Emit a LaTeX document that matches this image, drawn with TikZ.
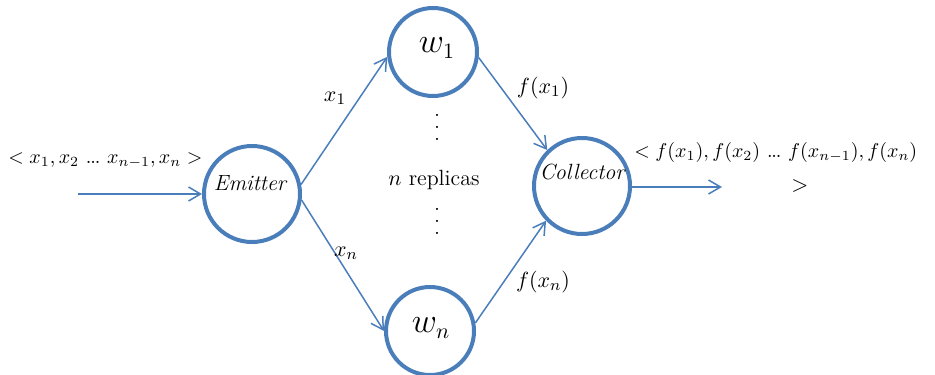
\documentclass[tikz,border=0pt]{standalone}
\usetikzlibrary{arrows.meta}
\definecolor{myblue}{RGB}{74,126,187}
\newcommand{\myell}{\mathord{.\mkern-1mu.\mkern-1mu.}}
\newcommand{\myvdots}{\vbox{\baselineskip=6pt\lineskiplimit=-20pt\hbox{.}\hbox{.}\hbox{.}}}
\begin{document}
\begin{tikzpicture}[x=0.5pt,y=-0.5pt,
  circ/.style={circle,draw=myblue,line width=2pt,inner sep=0pt},
  conn/.style={draw=myblue,line width=0.75pt,-{Straight Barb[length=6pt,width=7pt]}},
  lbl/.style={inner sep=0pt,font=\fontsize{11}{13}\selectfont},
  mlbl/.style={inner sep=0pt,font=\fontsize{10.2}{13}\selectfont},
  vdts/.style={inner sep=0pt,font=\fontsize{11}{6}\selectfont},
  big/.style={inner sep=0pt,font=\fontsize{16}{19}\selectfont}]
\useasboundingbox (0,0) rectangle (935,374);
% circles
\node[circ,minimum size=48pt] (em) at (252,194) {};
\node[circ,minimum size=44pt] (w1) at (433,52) {};
\node[circ,minimum size=44pt] (wn) at (430,331) {};
\node[circ,minimum size=48pt] (co) at (582,186) {};
% texts in circles
\node[lbl] (emt) at (250,183) {\itshape Emitter};
\node[lbl] (cot) at (582,172) {\itshape Collector};
\node[big] (w1t) at (437,48) {$w_1$};
\node[big] (wnt) at (431,328) {$w_n$};
% connectors
\coordinate (in) at (78,194);
\coordinate (out) at (722,187);
\draw[conn] (in) -- (em.west);
\draw[conn] (em.11) -- (w1.186);
\draw[conn] (em.-7) -- (wn.180);
\draw[conn] (w1.-7) -- (co.134);
\draw[conn] (wn.10) -- (co.224);
\draw[conn] (co.east |- out) -- (out);
% labels
\node[mlbl,anchor=west] (inl) at (8,160) {$< x_1, x_2\ \myell\ x_{n-1}, x_n >$};
\node[lbl] (x1l) at (335,98) {$x_1$};
\node[lbl] (xnl) at (346,253) {$x_n$};
\node[lbl] (f1l) at (543,88) {$f(x_1)$};
\node[lbl] (fnl) at (543,282) {$f(x_n)$};
\node[lbl] (rep) at (434,180) {$n$ replicas};
\node[vdts] (d1) at (437,127) {\myvdots};
\node[vdts] (d2) at (437,221) {\myvdots};
\node[mlbl,anchor=west] (outl) at (634,152) {$< f(x_1), f(x_2)\ \myell\ f(x_{n-1}), f(x_n)$};
\node[lbl] (gt) at (800,186) {$>$};
\end{tikzpicture}
\end{document}
